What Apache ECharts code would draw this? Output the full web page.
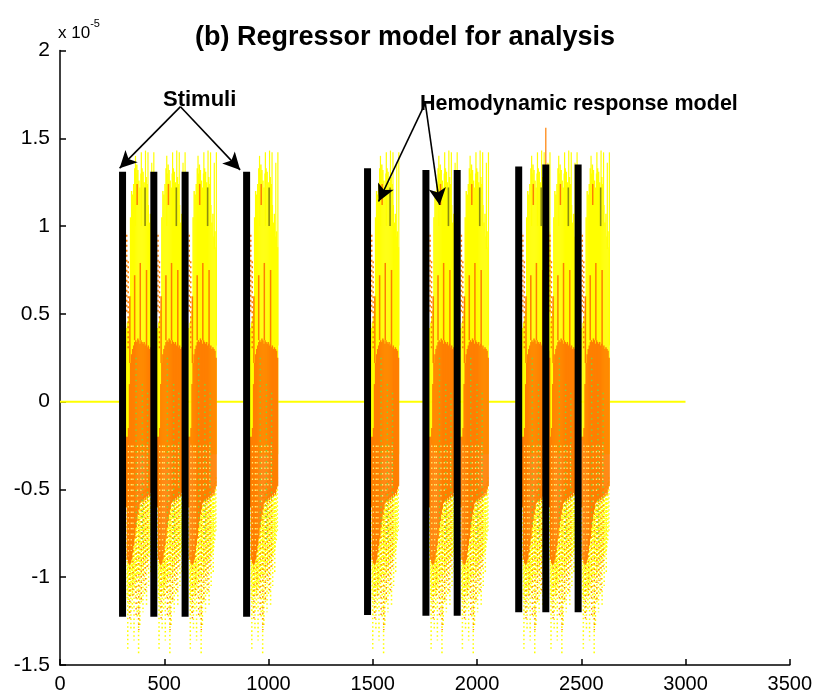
<!DOCTYPE html>
<html>
<head>
<meta charset="utf-8">
<script src="https://cdn.jsdelivr.net/npm/echarts@6/dist/echarts.min.js"></script>
<style>
  html, body { margin: 0; padding: 0; background: #ffffff; }
  #chart { width: 815px; height: 697px; }
</style>
</head>
<body>
<div id="chart"></div>
<script>
// All amplitudes are in units of 1e-5 (the axis carries the "x 10^-5" factor).

// Stimulus onsets (scan index) and the extent of each stimulus bar
const stimOnsets  = [300, 450, 600, 895, 1475, 1755, 1905, 2200, 2330, 2485];
const stimTops    = [1.31, 1.31, 1.31, 1.31, 1.33, 1.32, 1.32, 1.34, 1.35, 1.35];
const stimBottoms = [-1.225, -1.225, -1.225, -1.225, -1.215, -1.22, -1.22, -1.20, -1.20, -1.20];

// Hemodynamic response envelope after each onset, sampled every 5 scans
const respLags     = [15, 20, 25, 30, 35, 40, 45, 50, 55, 60, 65, 70, 75, 80, 85, 90, 95, 100, 105, 110, 115, 120, 125, 130, 135, 140, 145];
const yellowTop    = [0.42, 0.45, 0.48, 0.52, 1.05, 1.20, 1.18, 1.24, 1.33, 1.30, 1.35, 1.32, 1.26, 1.22, 1.30, 1.33, 1.31, 1.25, 1.21, 1.28, 1.24, 1.12, 1.02, 1.07, 0.94, 0.97, 0.88];
const yellowBottom = [-0.22, -0.22, -0.24, -0.26, -0.28, -0.30, -0.30, -0.30, -0.30, -0.30, -0.30, -0.30, -0.30, -0.30, -0.30, -0.30, -0.30, -0.30, -0.30, -0.30, -0.30, -0.30, -0.30, -0.30, -0.30, -0.30, -0.30];
const orangeTop    = [-0.20, -0.20, -0.15, 0.10, 0.22, 0.27, 0.30, 0.32, 0.34, 0.35, 0.34, 0.36, 0.35, 0.33, 0.35, 0.34, 0.33, 0.34, 0.32, 0.33, 0.31, 0.32, 0.30, 0.31, 0.30, 0.29, 0.25];
const orangeBottom = [-0.60, -0.90, -0.92, -0.93, -0.92, -0.90, -0.86, -0.82, -0.78, -0.72, -0.68, -0.64, -0.61, -0.58, -0.57, -0.56, -0.57, -0.55, -0.56, -0.54, -0.55, -0.53, -0.54, -0.52, -0.53, -0.50, -0.48];

// Thin yellow peaks above the envelope
const peakLags = [62, 90, 110, 122, 140, 150];
const peakTops = [1.40, 1.42, 1.43, 1.42, 1.36, 1.42];

// Thin orange peaks above the orange core
const orangePeakLags = [35, 58, 85, 115];
const orangePeakTops = [0.60, 0.72, 0.79, 0.75];

// Short dark traces near the top of each response
const olivePeak  = [108, 1.00, 1.22];
const orangeNick = [70, 1.12, 1.24];

// Dense speckled band right under the orange core
const bandBottoms = [-0.90, -1.12, -1.15, -1.10, -1.12, -1.06, -1.10, -1.02, -1.06, -1.00, -1.04, -0.98, -1.02, -0.96, -1.00, -0.95, -0.98, -0.92, -0.96, -0.90, -0.93, -0.88, -0.90, -0.86, -0.84, -0.80, -0.75];

// Sparse dotted tails reaching further down
const yellowTailLags    = [25, 32, 40, 47, 55, 62, 70, 77, 83, 90, 98, 105, 115, 125, 135];
const yellowTailBottoms = [-1.42, -1.22, -1.30, -1.18, -1.36, -1.12, -1.24, -1.44, -1.28, -1.15, -1.20, -1.10, -1.16, -1.05, -0.98];
const orangeTailLags    = [35, 50, 65, 78, 90, 100, 110, 120];
const orangeTailBottoms = [-1.25, -1.12, -1.22, -1.30, -1.15, -1.02, -1.08, -0.95];

// Speckles inside the core
const greenLags  = [65, 95, 120];
const greenTops  = [0.25, 0.10, 0.05];
const greenLows  = [-0.70, -0.80, -0.55];
const speckLags  = [28, 42, 50, 72, 88, 102, 118];

// Dotted orange traces on the rising edge
const edgeLags = [20, 27];
const edgeTops = [0.95, 0.80];
const edgeLows = [0.50, 0.30];

// Single overshoot on the ninth onset
const overshoot = [2330, 1.20, 1.56];

// Zero baseline
const baselineX = [0, 3000];

// Axis ticks
const xTicks = [0, 500, 1000, 1500, 2000, 2500, 3000, 3500];
const yTicks = [-1.5, -1, -0.5, 0, 0.5, 1, 1.5, 2];

const FONT = "'Liberation Sans', Arial, sans-serif";
const YELLOW = '#ffff00';
const ORANGE = '#ff7f00';
const GREEN = '#7fd43a';

// ---- build per-onset drawing tables ----
const yellowCols = [], orangeCols = [];
stimOnsets.forEach(t => {
  respLags.forEach((lag, i) => {
    yellowCols.push([t + lag, t + lag + 5, yellowBottom[i], yellowTop[i]]);
    orangeCols.push([t + lag, t + lag + 5, orangeBottom[i], orangeTop[i]]);
  });
});
const lagIndex = lag => Math.max(0, Math.min(respLags.length - 1, respLags.indexOf(Math.round(lag / 5) * 5)));
const envTop = lag => yellowTop[lagIndex(lag)];
const oTop = lag => orangeTop[lagIndex(lag)];
const oBot = lag => orangeBottom[lagIndex(lag)];

const yellowPeaks = [], orangePeaks = [], oliveLines = [], nickLines = [];
const bandA = [], bandB = [], yTails = [], oTails = [], greens = [], specks = [], edges = [];
stimOnsets.forEach(t => {
  peakLags.forEach((lag, i) => yellowPeaks.push([t + lag, Math.min(envTop(lag), 1.1) - 0.1, peakTops[i]]));
  orangePeakLags.forEach((lag, i) => orangePeaks.push([t + lag, oTop(lag), orangePeakTops[i]]));
  oliveLines.push([t + olivePeak[0], olivePeak[1], olivePeak[2]]);
  nickLines.push([t + orangeNick[0], orangeNick[1], orangeNick[2]]);
  respLags.forEach((lag, i) => {
    (i % 2 ? bandB : bandA).push([t + lag + 2.5, bandBottoms[i], orangeBottom[i] + 0.05]);
  });
  yellowTailLags.forEach((lag, i) => yTails.push([t + lag, yellowTailBottoms[i], oBot(lag)]));
  orangeTailLags.forEach((lag, i) => oTails.push([t + lag, orangeTailBottoms[i], oBot(lag) + 0.1]));
  greenLags.forEach((lag, i) => greens.push([t + lag, greenLows[i], greenTops[i]]));
  speckLags.forEach(lag => specks.push([t + lag, oBot(lag) + 0.05, -0.25]));
  edgeLags.forEach((lag, i) => edges.push([t + lag, edgeLows[i], edgeTops[i]]));
});
const overshootLines = [overshoot];
const stimBars = stimOnsets.map((t, i) => [t, stimBottoms[i], stimTops[i]]);

// ---- render helpers ----
function columnSeries(data, color, z) {
  return {
    type: 'custom', data, z, silent: true, animation: false,
    encode: { x: [0, 1], y: [2, 3] },
    renderItem(params, api) {
      const a = api.coord([api.value(0), api.value(3)]);
      const b = api.coord([api.value(1), api.value(2)]);
      return { type: 'rect', shape: { x: a[0], y: a[1], width: Math.max(1, b[0] - a[0] + 0.4), height: b[1] - a[1] }, style: { fill: color } };
    }
  };
}
function strokeSeries(data, color, width, dash, z, dashOffset) {
  return {
    type: 'custom', data, z, silent: true, animation: false,
    encode: { x: 0, y: [1, 2] },
    renderItem(params, api) {
      const a = api.coord([api.value(0), api.value(2)]);
      const b = api.coord([api.value(0), api.value(1)]);
      return { type: 'line', shape: { x1: a[0], y1: a[1], x2: b[0], y2: b[1] },
               style: { stroke: color, lineWidth: width, lineDash: dash || null, lineDashOffset: dashOffset || 0 } };
    }
  };
}
function barSeries(data, color, widthPx, z) {
  return {
    type: 'custom', data, z, silent: true, animation: false,
    encode: { x: 0, y: [1, 2] },
    renderItem(params, api) {
      const a = api.coord([api.value(0), api.value(2)]);
      const b = api.coord([api.value(0), api.value(1)]);
      return { type: 'rect', shape: { x: a[0] - widthPx / 2, y: a[1], width: widthPx, height: b[1] - a[1] }, style: { fill: color } };
    }
  };
}

const chart = echarts.init(document.getElementById('chart'), null, { renderer: 'canvas' });
chart.setOption({
  backgroundColor: '#ffffff',
  animation: false,
  title: {
    text: '(b) Regressor model for analysis',
    left: 190, top: 19,
    textStyle: { fontFamily: FONT, fontWeight: 'bold', fontSize: 27, color: '#000' }
  },
  grid: { left: 60, right: 25, top: 50.5, bottom: 32 },
  xAxis: {
    type: 'value', min: 0, max: 3500, interval: 500,
    axisLine: { onZero: false, lineStyle: { color: '#000', width: 1.5 } },
    axisTick: { inside: true, length: 6, lineStyle: { color: '#000', width: 1.5 } },
    axisLabel: { fontFamily: FONT, fontSize: 20, color: '#000', margin: 9,
                 formatter: v => xTicks.includes(v) ? String(v) : '' },
    splitLine: { show: false }
  },
  yAxis: {
    type: 'value', min: -1.5, max: 2, interval: 0.5,
    axisLine: { show: true, onZero: false, lineStyle: { color: '#000', width: 1.5 } },
    axisTick: { show: true, inside: true, length: 6, lineStyle: { color: '#000', width: 1.5 } },
    axisLabel: { fontFamily: FONT, fontSize: 21, color: '#000', margin: 10,
                 formatter: v => yTicks.includes(v) ? String(v) : '' },
    splitLine: { show: false }
  },
  graphic: [
    { type: 'text', left: 58, top: 18, z: 10,
      style: { text: '{a|x 10}{b|-5}', rich: {
        a: { fontFamily: FONT, fontSize: 17, fill: '#000', padding: [7, 0, 0, 0] },
        b: { fontFamily: FONT, fontSize: 11, fill: '#000', verticalAlign: 'top' } } } },
    { type: 'text', left: 163, top: 89, z: 10,
      style: { text: 'Stimuli', fontFamily: FONT, fontWeight: 'bold', fontSize: 22, fill: '#000' } },
    { type: 'text', left: 420, top: 93, z: 10,
      style: { text: 'Hemodynamic response model', fontFamily: FONT, fontWeight: 'bold', fontSize: 21.5, fill: '#000' } }
  ],
  series: [
    {
      type: 'line', z: 1, silent: true, animation: false, symbol: 'none',
      data: baselineX.map(x => [x, 0]),
      lineStyle: { color: YELLOW, width: 2 },
      markLine: {
        silent: true, animation: false, symbol: ['none', 'arrow'], symbolSize: [13, 17],
        lineStyle: { color: '#000', width: 1.6, type: 'solid' },
        label: { show: false },
        data: [
          [{ coord: [578, 1.68] }, { coord: [286, 1.33] }],
          [{ coord: [578, 1.68] }, { coord: [864, 1.32] }],
          [{ coord: [1752, 1.70] }, { coord: [1528, 1.14] }],
          [{ coord: [1752, 1.70] }, { coord: [1821, 1.12] }]
        ]
      }
    },
    columnSeries(yellowCols, YELLOW, 2),
    strokeSeries(yellowPeaks, YELLOW, 1.2, null, 3),
    strokeSeries(edges, ORANGE, 1.5, [2, 3], 3),
    strokeSeries(bandA, YELLOW, 1.5, [1.6, 2.4], 3, 0),
    strokeSeries(bandB, YELLOW, 1.5, [1.6, 2.4], 3, 2),
    strokeSeries(yTails, YELLOW, 1.5, [1.6, 2.6], 3),
    strokeSeries(oTails, ORANGE, 1.4, [1.5, 4], 3),
    columnSeries(orangeCols, ORANGE, 4),
    strokeSeries(orangePeaks, ORANGE, 1.5, null, 4),
    strokeSeries(nickLines, ORANGE, 1.5, null, 4),
    strokeSeries(oliveLines, '#8c8c10', 1.6, null, 4),
    strokeSeries(specks, '#ffe96a', 1.3, [1.5, 4], 5),
    strokeSeries(greens, GREEN, 1.4, [1.5, 4], 5),
    strokeSeries(overshootLines, ORANGE, 1.2, null, 5),
    barSeries(stimBars, '#000000', 7, 6)
  ]
});
</script>
</body>
</html>
